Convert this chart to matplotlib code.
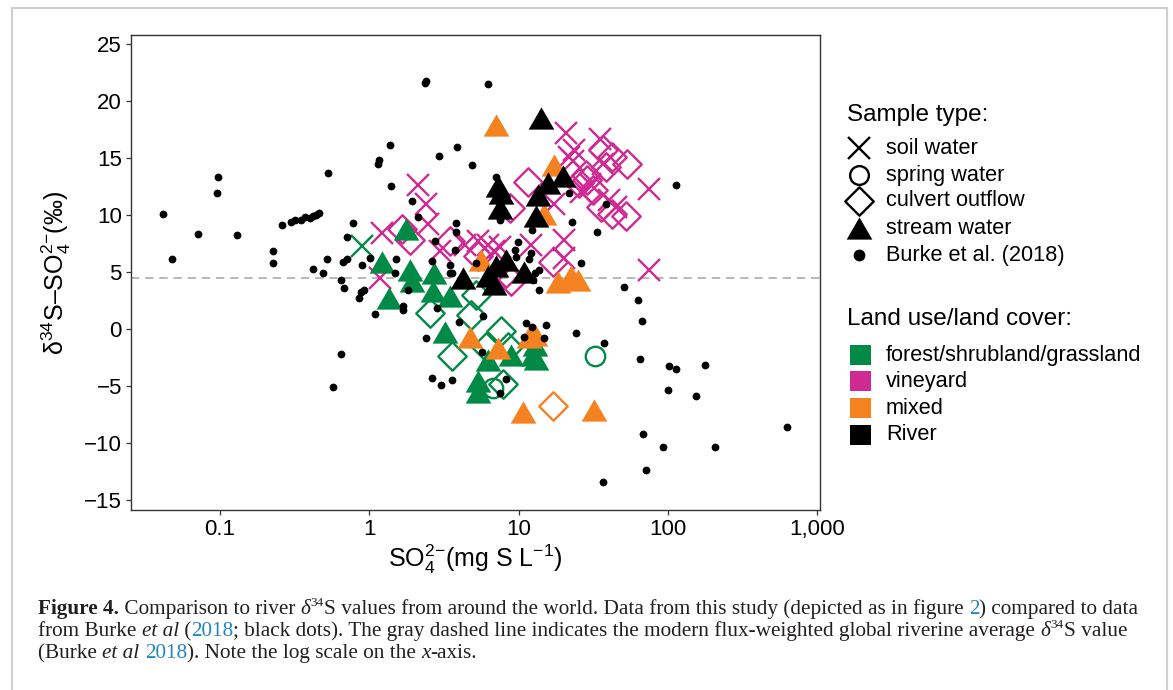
import matplotlib
matplotlib.use("Agg")
import matplotlib.pyplot as plt
from matplotlib.path import Path
from matplotlib.ticker import FixedLocator, NullLocator

plt.rcParams['font.family'] = ['Liberation Sans', 'DejaVu Sans']
plt.rcParams['mathtext.fontset'] = 'custom'
plt.rcParams['mathtext.rm'] = 'Liberation Sans'
plt.rcParams['mathtext.it'] = 'Liberation Sans:italic'
plt.rcParams['mathtext.bf'] = 'Liberation Sans:bold'
plt.rcParams['mathtext.sf'] = 'Liberation Sans'

# ---------------- data ----------------
burke_x = [0.042, 0.048, 0.072, 0.096, 0.098, 0.131, 0.228, 0.228, 0.262, 0.30,
           0.32, 0.35, 0.37, 0.40, 0.42, 0.44, 0.46, 0.42, 0.49, 0.52,
           0.533, 0.575, 0.65, 0.65, 0.68, 0.67, 0.71, 0.71, 0.78, 0.85,
           0.88, 0.92, 0.89, 1.02, 1.10, 1.14, 1.17, 1.38, 1.39, 1.52,
           1.49, 1.68, 1.69, 1.83, 1.93, 2.13, 2.36, 2.42, 2.42, 2.62,
           2.78, 2.83, 2.93, 3.47, 3.74, 3.84, 3.82, 3.86, 3.98, 4.89,
           5.2, 5.8, 5.7, 6.24, 7.03, 7.47, 9.6, 9.9, 11.8, 12.3,
           12.2, 12.8, 12.5, 13.8, 13.8, 11.2, 12.3, 15.3, 10.8, 14.9,
           21.9, 22.7, 24.2, 26.0, 33.4, 37.3, 38.4, 50.4, 62.6, 67.1,
           65.3, 101.6, 113.0, 177.0, 99.5, 154.0, 628.0, 67.5, 91.9, 205.0,
           71.6, 36.6, 113.6, 2.62, 3.02, 3.59, 8.2, 7.47, 3.47, 3.56,
           9.4]
burke_y = [10.1, 6.1, 8.3, 11.9, 13.3, 8.2, 6.8, 5.8, 9.1, 9.4,
           9.6, 9.6, 9.8, 9.7, 9.9, 10.0, 10.2, 5.3, 4.9, 6.1,
           13.7, -5.1, -2.2, 4.3, 3.6, 5.9, 6.1, 8.1, 9.3, 2.7,
           3.2, 3.4, 5.6, 6.2, 1.3, 14.5, 14.8, 16.1, 12.5, 6.1,
           4.9, 2.0, 1.7, 3.4, 11.2, 9.8, 21.6, 21.8, -0.8, 6.0,
           7.7, 1.8, 15.2, 5.6, 6.9, 9.3, 8.5, 16.0, 0.6, 14.4,
           5.8, 1.1, -2.0, 21.5, 13.3, 9.6, 6.3, 7.6, 6.1, 8.7,
           6.7, 4.9, 4.3, 5.2, 3.4, 0.5, 0.2, 0.3, -0.7, -0.8,
           11.9, 9.4, -0.4, 5.8, 8.5, -1.2, 11.0, 3.7, 2.5, 0.7,
           -2.6, -3.3, -3.5, -3.2, -5.4, -5.9, -8.6, -9.2, -10.4, -10.4,
           -12.4, -13.4, 12.6, -4.3, -4.9, -4.5, -4.4, -5.6, 4.9, 4.9,
           6.9]

# forest/shrubland/grassland
forest_soil_x = [0.9]
forest_soil_y = [7.3]
forest_spring_x = [32.3, 6.74]
forest_spring_y = [-2.35, -5.2]
forest_culvert_x = [2.55, 4.8, 5.2, 3.6, 7.66, 6.1, 8.44, 7.9]
forest_culvert_y = [1.4, 1.2, 3.0, -2.4, -0.2, -1.6, -1.55, -4.8]
forest_stream_x = [1.76, 1.22, 1.88, 1.93, 1.35, 2.71, 2.68, 3.47, 3.21, 6.24,
                   5.35, 5.35, 8.92, 12.5, 12.8, 13.0]
forest_stream_y = [8.8, 5.9, 5.2, 4.2, 2.7, 4.9, 3.3, 2.9, -0.3, -2.7,
                   -4.6, -5.5, -2.3, -2.3, -1.4, -2.6]

# vineyard
vine_soil_x = [20.8, 34.8, 23.6, 21.9, 23.1, 36.6, 2.13, 74.8, 74.8, 2.42,
               2.49, 1.22, 1.18, 2.97, 20.2, 12.1, 17.3, 40.4, 44.7, 4.37,
               5.35, 6.24, 6.9, 7.47, 20.2, 30.0, 26.0]
vine_soil_y = [17.2, 16.7, 15.7, 15.1, 14.7, 14.5, 12.6, 12.3, 5.2, 11.0,
               9.2, 8.4, 4.5, 6.8, 7.8, 7.4, 11.0, 11.3, 10.7, 7.4,
               7.7, 7.4, 6.8, 7.2, 6.2, 12.7, 12.0]
vine_culvert_x = [36.6, 42.5, 53.5, 38.4, 28.9, 25.5, 31.3, 35.6, 42.5, 52.3,
                  28.2, 11.6, 8.7, 17.0, 8.3, 8.9, 3.47, 5.35, 1.65, 1.88]
vine_culvert_y = [15.7, 15.1, 14.5, 14.2, 13.1, 12.8, 12.2, 10.7, 10.1, 9.9,
                  13.5, 12.9, 10.6, 5.9, 4.9, 4.2, 7.7, 6.4, 8.8, 7.8]

# mixed
mixed_culvert_x = [16.9]
mixed_culvert_y = [-6.8]
mixed_stream_x = [7.1, 17.2, 14.9, 5.6, 18.3, 22.4, 24.9, 4.71, 7.3, 11.8,
                  12.8, 10.7, 32.1]
mixed_stream_y = [17.9, 14.4, 10.1, 6.05, 4.15, 4.6, 4.3, -0.7, -1.7, -0.7,
                  -0.5, -7.3, -7.1]

# River
river_stream_x = [14.2, 7.3, 7.6, 7.47, 13.4, 15.7, 19.8, 13.1, 4.25, 6.24,
                  6.9, 8.26, 10.9, 7.1]
river_stream_y = [18.5, 12.5, 11.9, 10.6, 11.75, 12.8, 13.4, 9.9, 4.45, 4.6,
                  3.9, 6.05, 5.0, 5.5]

global_avg = 4.5
x_ticks = [0.1, 1, 10, 100, 1000]
x_tick_labels = ["0.1", "1", "10", "100", "1,000"]
y_ticks = [-15, -10, -5, 0, 5, 10, 15, 20, 25]

sample_types = ["soil water", "spring water", "culvert outflow", "stream water",
                "Burke et al. (2018)"]
land_uses = ["forest/shrubland/grassland", "vineyard", "mixed", "River"]

# ---------------- style ----------------
GREEN = "#008A46"
MAGENTA = "#CF2A92"
ORANGE = "#F58220"
BLACK = "#000000"
LINK = "#2385C2"
land_colors = [GREEN, MAGENTA, ORANGE, BLACK]

TRI = Path([(0, 1), (1.155, -1), (-1.155, -1), (0, 1)],
           [Path.MOVETO, Path.LINETO, Path.LINETO, Path.CLOSEPOLY])
DIA = Path([(0, 1), (1, 0), (0, -1), (-1, 0), (0, 1)],
           [Path.MOVETO, Path.LINETO, Path.LINETO, Path.LINETO, Path.CLOSEPOLY])

W, H = 1173, 690
fig = plt.figure(figsize=(W / 100, H / 100), dpi=100)
fig.patch.set_facecolor("white")

L, R, T, B = 131, 820, 35, 510
ax = fig.add_axes([L / W, (H - B) / H, (R - L) / W, (B - T) / H])
ax.set_xscale("log")
ax.set_xlim(0.0255, 1040)
ax.set_ylim(-15.9, 25.8)

ax.axhline(global_avg, color="#ABABAB", lw=1.2, ls=(0, (5, 3.5)), zorder=1)

def open_mk(xs, ys, marker, color, ms, mew=1.7):
    ax.plot(xs, ys, ls="none", marker=marker, ms=ms, mfc="none", mec=color,
            mew=mew, zorder=3)

def tri_mk(xs, ys, color, ms=18.5):
    ax.plot(xs, ys, ls="none", marker=TRI, ms=ms, mfc=color, mec=color,
            mew=0, zorder=4)

open_mk(forest_culvert_x, forest_culvert_y, DIA, GREEN, 20.5)
open_mk(vine_culvert_x, vine_culvert_y, DIA, MAGENTA, 20.5)
open_mk(mixed_culvert_x, mixed_culvert_y, DIA, ORANGE, 20.5)
open_mk(forest_spring_x, forest_spring_y, "o", GREEN, 14)
open_mk(forest_soil_x, forest_soil_y, "x", GREEN, 15.5)
open_mk(vine_soil_x, vine_soil_y, "x", MAGENTA, 15.5)
tri_mk(forest_stream_x, forest_stream_y, GREEN)
tri_mk(mixed_stream_x, mixed_stream_y, ORANGE)
tri_mk(river_stream_x, river_stream_y, BLACK)
ax.plot(burke_x, burke_y, ls="none", marker="o", ms=5.6, mfc="black", mec="black",
        mew=0, zorder=5)

ax.xaxis.set_major_locator(FixedLocator(x_ticks))
ax.xaxis.set_minor_locator(NullLocator())
ax.set_xticklabels(x_tick_labels)
ax.set_yticks(y_ticks)
ax.set_yticklabels([("\u2212%d" % -v) if v < 0 else str(v) for v in y_ticks])
ax.tick_params(axis="both", length=3.6, width=0.9, color="#333333",
               labelsize=16, labelcolor="black", pad=3)
for s in ax.spines.values():
    s.set_color("#333333")
    s.set_linewidth(1.0)

ax.set_xlabel(r"SO$_4^{2{-}}$(mg S L$^{{-}1}$)", fontsize=18, labelpad=2)
ax.set_ylabel("\u03b4$^{34}$S\u2013SO$_4^{2{-}}$(\u2030)", fontsize=18, labelpad=8)

# ---------------- overlay (legend, caption, frame) ----------------
ov = fig.add_axes([0, 0, 1, 1], zorder=10)
ov.set_xlim(0, W)
ov.set_ylim(H, 0)
ov.axis("off")
ov.patch.set_visible(False)

# page frame
ov.plot([12, 12, 1167, 1167], [H, 8, 8, H], color="#CFCFCF", lw=1.5,
        solid_joinstyle="miter")

# legend: sample type
ov.text(847, 115, "Sample type:", fontsize=17.5, va="center", ha="left")
leg_y = [148, 175, 201, 228, 255]
mx = 859
ov.plot(mx, leg_y[0], marker="x", ms=15.5, mec="black", mew=1.7, ls="none")
ov.plot(mx, leg_y[1], marker="o", ms=13.5, mfc="none", mec="black", mew=1.7, ls="none")
ov.plot(mx, leg_y[2], marker=DIA, ms=20.5, mfc="none", mec="black", mew=1.7, ls="none")
ov.plot(mx, leg_y[3], marker=TRI, ms=18.5, mfc="black", mec="black", mew=0, ls="none")
ov.plot(mx, leg_y[4], marker="o", ms=8.5, mfc="black", mec="black", mew=0, ls="none")
for yy, lab in zip(leg_y, sample_types):
    ov.text(886, yy, lab, fontsize=15.7, va="center", ha="left")

# legend: land use
ov.text(847, 319, "Land use/land cover:", fontsize=17.5, va="center", ha="left")
lu_y = [355, 381, 408, 435]
for yy, lab, c in zip(lu_y, land_uses, land_colors):
    ov.add_patch(plt.Rectangle((849.5, yy - 10), 21, 20, facecolor=c, edgecolor="none"))
    ov.text(886, yy, lab, fontsize=15.7, va="center", ha="left")

# caption
renderer = fig.canvas.get_renderer()
SERIF = "Liberation Serif"
CAP_COL = "#231F20"

def seg_kw(kind, size):
    kw = dict(family=SERIF, fontsize=size, color=CAP_COL, va="baseline", ha="left")
    if kind == "b":
        kw["weight"] = "bold"
    if kind == "i":
        kw["style"] = "italic"
    if kind == "link":
        kw["color"] = LINK
    if kind == "sup":
        kw["fontsize"] = size * 0.62
    return kw

def seg_width(txt, kind, size):
    kw = seg_kw(kind, size)
    t1 = ov.text(0, 0, "|" + txt + "|", **kw)
    t2 = ov.text(0, 0, "||", **kw)
    w = t1.get_window_extent(renderer).width - t2.get_window_extent(renderer).width
    t1.remove()
    t2.remove()
    return w

def draw_line(x0, y0, segs, size):
    x = x0
    for txt, kind in segs:
        kw = seg_kw(kind, size)
        yy = y0 - (size * 100 / 72 * 0.36 if kind == "sup" else 0)
        ov.text(x, yy, txt, **kw)
        x += seg_width(txt, kind, size)
    return x

line1 = [("Figure 4.", "b"), (" Comparison to river ", "n"), ("\u03b4", "i"), ("34", "sup"),
         ("S values from around the world. Data from this study (depicted as in figure ", "n"),
         ("2", "link"), (") compared to data", "n")]
line2 = [("from Burke ", "n"), ("et al", "i"), (" (", "n"), ("2018", "link"),
         ("; black dots). The gray dashed line indicates the modern flux-weighted global riverine average ", "n"),
         ("\u03b4", "i"), ("34", "sup"), ("S value", "n")]
line3 = [("(Burke ", "n"), ("et al", "i"), (" ", "n"), ("2018", "link"),
         ("). Note the log scale on the ", "n"), ("x", "i"), ("-axis.", "n")]

base = 10.0
w1 = sum(seg_width(t, k, base) for t, k in line1)
cap_size = base * (1140 - 38) / w1
draw_line(38, 614, line1, cap_size)
draw_line(38, 636, line2, cap_size)
draw_line(38, 658, line3, cap_size)

fig.savefig("out.png", dpi=100, facecolor="white")
